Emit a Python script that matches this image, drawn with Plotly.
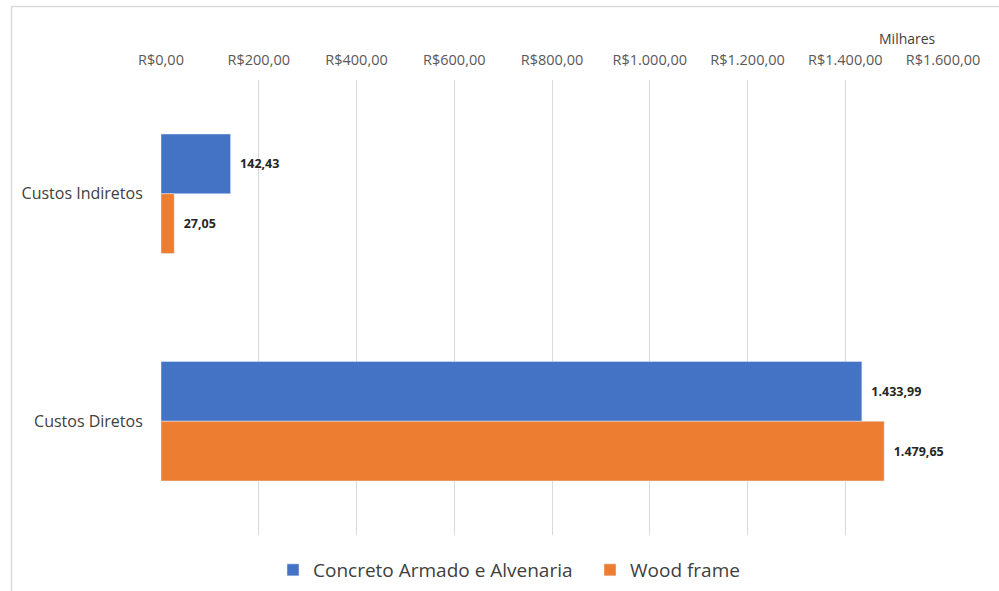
import plotly.graph_objects as go

categories = ["Custos Indiretos", "Custos Diretos"]
concreto = [142.43, 1433.99]
wood = [27.05, 1479.65]
tick_vals = [0, 200, 400, 600, 800, 1000, 1200, 1400, 1600]
tick_text = ["R$0,00", "R$200,00", "R$400,00", "R$600,00", "R$800,00",
             "R$1.000,00", "R$1.200,00", "R$1.400,00", "R$1.600,00"]


def fmt(v):
    s = f"{v:,.2f}"
    return s.replace(",", "X").replace(".", ",").replace("X", ".")


W, H = 999, 591
L, R, T, B = 161, 56, 80, 56

fig = go.Figure()
fig.add_trace(go.Bar(
    y=categories, x=concreto, orientation="h", name="Concreto Armado e Alvenaria",
    marker=dict(color="#4472C4"),
    text=[f"\u00a0\u00a0<b>{fmt(v)}</b>" for v in concreto], textposition="outside",
    textfont=dict(size=12.5, color="#262626", family="Open Sans"),
    cliponaxis=False,
))
fig.add_trace(go.Bar(
    y=categories, x=wood, orientation="h", name="Wood frame",
    marker=dict(color="#ED7D31"),
    text=[f"\u00a0\u00a0<b>{fmt(v)}</b>" for v in wood], textposition="outside",
    textfont=dict(size=12.5, color="#262626", family="Open Sans"),
    cliponaxis=False,
))

pw = W - L - R
ph = H - T - B

def px2x(p):
    return (p - L) / pw

def px2y(p):
    return (H - B - p) / ph

fig.add_shape(type="rect", xref="paper", yref="paper",
              x0=px2x(11.5), x1=px2x(1010), y0=px2y(600), y1=px2y(6.5),
              line=dict(color="#d9d9d9", width=1.5), layer="below")

fig.add_annotation(text="Milhares", xref="paper", yref="paper",
                   x=px2x(907), y=px2y(38), xanchor="center", yanchor="middle",
                   showarrow=False,
                   font=dict(size=14, color="#404040", family="Open Sans"))

fig.update_layout(
    width=W, height=H,
    margin=dict(l=L, r=R, t=T, b=B, autoexpand=False),
    paper_bgcolor="white", plot_bgcolor="white",
    barmode="group", bargap=0.475, bargroupgap=0,
    font=dict(family="Open Sans", color="#404040"),
    xaxis=dict(side="top", range=[0, 1600], tickvals=tick_vals, ticktext=tick_text,
               showgrid=True, gridcolor="#d9d9d9", gridwidth=1, zeroline=False,
               ticks="outside", ticklen=8, tickcolor="rgba(0,0,0,0)",
               tickfont=dict(size=14.5, color="#595959"), showline=False),
    yaxis=dict(autorange="reversed", showgrid=False, zeroline=False,
               ticks="outside", ticklen=14, tickcolor="rgba(0,0,0,0)",
               tickfont=dict(size=16, color="#404040")),
    legend=dict(orientation="h", x=px2x(273), xanchor="left", y=px2y(570), yanchor="middle",
                font=dict(size=19, color="#404040"), itemwidth=30,
                entrywidth=272, entrywidthmode="pixels", traceorder="normal"),
    showlegend=True,
)

fig.write_html("out.html", config={"displayModeBar": False},
               post_script="document.body.style.margin='0';")
